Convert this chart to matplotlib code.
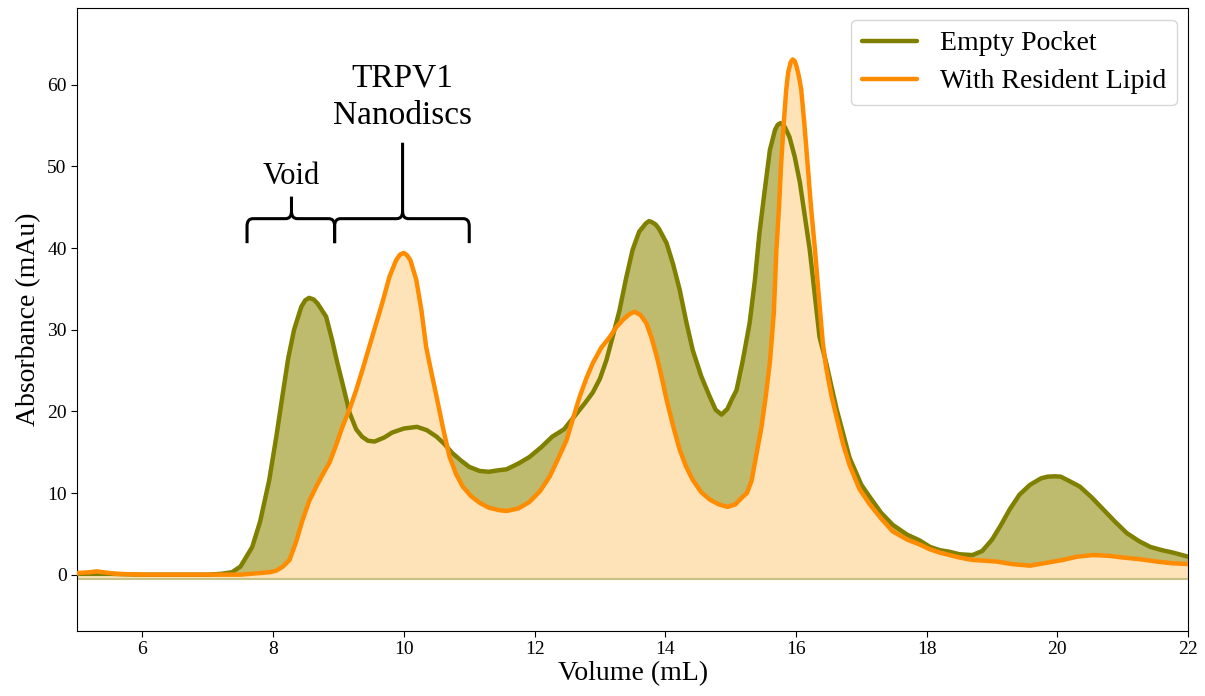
import matplotlib
matplotlib.use("Agg")
import matplotlib.pyplot as plt
from matplotlib.path import Path
from matplotlib.patches import PathPatch

plt.rcParams['font.family'] = ['Liberation Serif', 'DejaVu Serif']

# ---- data ----
empty_x = [5.0, 5.5, 6.0, 6.5, 7.0, 7.2, 7.37, 7.5, 7.68, 7.8, 7.94, 8.05, 8.14, 8.23, 8.32, 8.43,
           8.49, 8.55, 8.62, 8.68, 8.81, 8.9, 8.98, 9.08, 9.17, 9.27, 9.36, 9.45, 9.55, 9.7, 9.82,
           10.0, 10.2, 10.35,
           10.5, 10.62, 10.74, 10.87, 11.0, 11.16, 11.3, 11.46, 11.57, 11.75, 11.92, 12.1, 12.27,
           12.45, 12.64, 12.77, 12.89, 13.0, 13.1, 13.2, 13.3, 13.4, 13.5, 13.6, 13.7, 13.75, 13.79,
           13.85, 13.9,
           14.02, 14.12, 14.22, 14.32, 14.42, 14.55, 14.68, 14.77, 14.86, 14.95, 15.02, 15.09, 15.18,
           15.29, 15.37, 15.44, 15.52, 15.6, 15.68, 15.72, 15.76, 15.8, 15.83, 15.9, 15.98, 16.06,
           16.13, 16.21,
           16.28, 16.36, 16.46, 16.62, 16.82, 17.0, 17.13, 17.3, 17.48, 17.7, 17.89, 18.05, 18.2,
           18.35, 18.5, 18.7, 18.85, 19.0, 19.13, 19.27, 19.42, 19.58, 19.75, 19.85, 19.96, 20.05,
           20.15, 20.34,
           20.52, 20.7, 20.88, 21.06, 21.25, 21.42, 21.6, 21.77, 22.0]
empty_y = [0.1, 0.1, 0.0, 0.0, 0.0, 0.1, 0.3, 1.0, 3.4, 6.5, 11.6, 17.0, 21.8, 26.5, 30.0, 32.8,
           33.6, 33.9, 33.7, 33.2, 31.6, 28.8, 26.0, 22.8, 19.8, 17.8, 16.9, 16.4, 16.3, 16.8, 17.4,
           17.9, 18.1, 17.7,
           16.9, 16.0, 14.9, 14.0, 13.2, 12.7, 12.6, 12.8, 12.9, 13.6, 14.4, 15.6, 16.9,
           17.8, 19.7, 21.0, 22.3, 24.0, 26.3, 29.3, 32.4, 36.3, 39.8, 42.0, 43.0, 43.3, 43.2,
           42.9, 42.4,
           40.6, 38.0, 34.9, 31.0, 27.5, 24.3, 21.8, 20.2, 19.6, 20.3, 21.5, 22.6, 26.0,
           30.8, 36.0, 41.8, 47.0, 52.0, 54.5, 55.1, 55.3, 55.1, 54.8, 53.6, 51.2, 48.0,
           44.2, 39.8,
           34.8, 29.1, 26.0, 20.3, 14.3, 11.0, 9.5, 7.6, 6.1, 4.9, 4.2, 3.4, 3.0,
           2.8, 2.5, 2.4, 2.9, 4.3, 6.0, 8.0, 9.8, 11.0, 11.8, 12.0, 12.05, 12.0,
           11.6, 10.8,
           9.5, 8.0, 6.5, 5.1, 4.1, 3.4, 3.0, 2.7, 2.2]

lipid_x = [5.0, 5.2, 5.3, 5.4, 5.6, 6.0, 6.5, 7.0, 7.5, 7.8, 7.95, 8.05, 8.15, 8.25, 8.35, 8.45,
           8.55, 8.66, 8.76, 8.86, 8.96, 9.06, 9.17, 9.27, 9.37, 9.47, 9.57, 9.67, 9.78, 9.88, 9.94,
           10.0, 10.05,
           10.1, 10.19, 10.27, 10.34, 10.42, 10.5, 10.6, 10.7, 10.8, 10.9, 11.03, 11.16, 11.3, 11.46,
           11.57, 11.75, 11.92, 12.08, 12.23, 12.36, 12.49, 12.59, 12.69, 12.79, 12.89, 13.02, 13.15,
           13.25, 13.35, 13.45, 13.53, 13.62, 13.71, 13.79, 13.87, 13.95, 14.02, 14.12, 14.22, 14.32,
           14.42, 14.55, 14.68, 14.82, 14.95, 15.07, 15.18, 15.25, 15.32, 15.4, 15.47, 15.54, 15.6,
           15.66, 15.7, 15.74, 15.77, 15.81, 15.85, 15.88, 15.92, 15.95, 15.98, 16.01, 16.05, 16.08,
           16.13, 16.18, 16.23,
           16.29, 16.35, 16.41, 16.46, 16.54, 16.62, 16.72, 16.82, 16.97, 17.13, 17.3, 17.48, 17.7,
           17.89, 18.05, 18.2, 18.35, 18.5, 18.7, 18.9, 19.07, 19.3, 19.58, 19.8, 20.08, 20.3, 20.55,
           20.8, 21.0, 21.25, 21.52, 21.75, 22.0]
lipid_y = [0.2, 0.3, 0.4, 0.3, 0.1, 0.0, 0.0, 0.0, 0.0, 0.2, 0.3, 0.5, 1.0, 1.8, 4.0, 6.7,
           9.0, 10.8, 12.3, 13.7, 15.8, 18.1, 20.3, 22.6, 25.2, 27.9, 30.6, 33.3, 36.5, 38.5, 39.2,
           39.4, 39.1,
           38.5, 36.1, 32.3, 27.9, 24.8, 21.8, 17.9, 14.4, 12.3, 10.8, 9.6, 8.8, 8.2, 7.9,
           7.8, 8.1, 8.9, 10.2, 12.0, 14.2, 16.5, 19.2, 21.8, 24.0, 25.9, 27.8, 29.1,
           30.3, 31.2, 31.9, 32.2, 31.8, 30.8, 29.0, 26.7, 24.0, 21.4, 18.2, 15.3, 13.2,
           11.6, 10.1, 9.2, 8.6, 8.3, 8.6, 9.5, 10.0, 11.5, 15.0, 18.0, 22.0, 26.0,
           32.0, 39.8, 45.0, 50.0, 55.0, 59.4, 61.5, 62.8, 63.1, 62.9, 62.2, 60.8, 59.4,
           55.0, 50.0, 45.0,
           39.8, 34.0, 28.4, 25.4, 22.0, 19.3, 16.0, 13.4, 10.5, 8.6, 6.9, 5.3, 4.3,
           3.7, 3.1, 2.7, 2.4, 2.1, 1.8, 1.7, 1.6, 1.3, 1.1, 1.4, 1.8, 2.2, 2.4,
           2.3, 2.1, 1.9, 1.6, 1.4, 1.3]

series_labels = ["Empty Pocket", "With Resident Lipid"]
x_ticks = [6, 8, 10, 12, 14, 16, 18, 20, 22]
y_ticks = [0, 10, 20, 30, 40, 50, 60]
baseline = -0.5

# ---- figure ----
fig = plt.figure(figsize=(12.05, 6.96), dpi=100)
ax = fig.add_axes([0.064, 0.0934, 0.922, 0.8951])

green = '#808000'
orange = '#FF8C00'
ax.fill_between(empty_x, baseline, empty_y, color='#BEBA6E', lw=0, zorder=1)
ax.fill_between(lipid_x, baseline, lipid_y, color='#FDE3B7', lw=0, zorder=2)
ax.axhline(baseline, color='#C9C183', lw=1.5, zorder=2.5)
ax.plot(empty_x, empty_y, color=green, lw=3.2, label=series_labels[0], zorder=3,
        solid_capstyle='round', solid_joinstyle='round')
ax.plot(lipid_x, lipid_y, color=orange, lw=3.2, label=series_labels[1], zorder=4,
        solid_capstyle='round', solid_joinstyle='round')

ax.set_xlim(5, 22)
ax.set_ylim(-6.9, 69.4)
ax.set_xticks(x_ticks)
ax.set_yticks(y_ticks)
ax.tick_params(labelsize=14, length=4)
ax.set_xlabel("Volume (mL)", fontsize=20, labelpad=2)
ax.set_ylabel("Absorbance (mAu)", fontsize=20, labelpad=4)


def brace(x0, x1, xm, ybot, ytop, ytip, rx=0.09, ry=0.9):
    verts = [(x0, ybot), (x0, ytop - ry), (x0, ytop), (x0 + rx, ytop),
             (xm - rx, ytop), (xm, ytop), (xm, ytop + ry), (xm, ytip),
             (xm, ytop + ry), (xm, ytop), (xm + rx, ytop),
             (x1 - rx, ytop), (x1, ytop), (x1, ytop - ry), (x1, ybot)]
    codes = [Path.MOVETO, Path.LINETO, Path.CURVE3, Path.CURVE3,
             Path.LINETO, Path.CURVE3, Path.CURVE3, Path.LINETO,
             Path.MOVETO, Path.CURVE3, Path.CURVE3,
             Path.LINETO, Path.CURVE3, Path.CURVE3, Path.LINETO]
    ax.add_patch(PathPatch(Path(verts, codes), fill=False, lw=2.2, color='black',
                           capstyle='butt', joinstyle='round', zorder=5))

brace(7.6, 8.94, 8.28, 40.6, 43.6, 46.3)
brace(8.94, 11.0, 9.98, 40.6, 43.6, 52.9)
ax.text(8.28, 47.0, "Void", ha='center', va='bottom', fontsize=22)
ax.text(9.98, 54.3, "TRPV1\nNanodiscs", ha='center', va='bottom', fontsize=24,
        linespacing=1.3)

leg = ax.legend(loc='upper right', fontsize=20, frameon=True, handlelength=2.0,
                borderpad=0.4, labelspacing=0.45, handletextpad=0.8,
                borderaxespad=0.0, bbox_to_anchor=(0.990, 0.981))
leg.get_frame().set_edgecolor('#CCCCCC')

fig.savefig("out.png", dpi=100)
